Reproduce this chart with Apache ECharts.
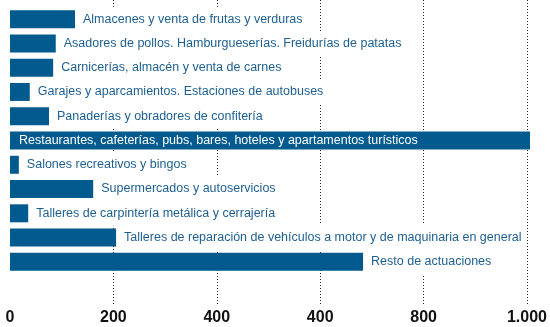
<!DOCTYPE html>
<html><head><meta charset="utf-8">
<script src="https://cdn.jsdelivr.net/npm/echarts@6/dist/echarts.min.js"></script>
<style>html,body{margin:0;padding:0;background:#fff}#c{width:550px;height:327px}</style>
</head><body><div id="c"></div>
<script>
const categories = [
  'Almacenes y venta de frutas y verduras',
  'Asadores de pollos. Hamburgueserías. Freidurías de patatas',
  'Carnicerías, almacén y venta de carnes',
  'Garajes y aparcamientos. Estaciones de autobuses',
  'Panaderías y obradores de confitería',
  'Restaurantes, cafeterías, pubs, bares, hoteles y apartamentos turísticos',
  'Salones recreativos y bingos',
  'Supermercados y autoservicios',
  'Talleres de carpintería metálica y cerrajería',
  'Talleres de reparación de vehículos a motor y de maquinaria en general',
  'Resto de actuaciones'
];
const values = [125, 88, 83, 38, 75, 1000, 17, 160, 35, 204, 679];
const tickLabels = ['0', '200', '400', '400', '800', '1.000'];

const BLUE = '#035a8e';
const FONT = '"Liberation Sans", Arial, sans-serif';

const data = values.map((v, i) => {
  const inside = v >= 1000;
  return {
    value: v,
    label: inside
      ? {position: 'insideLeft', distance: 9, color: '#ffffff', backgroundColor: 'transparent', padding: 0}
      : {position: 'right', distance: 5, color: '#1d5f8f', backgroundColor: '#ffffff', padding: [5, 3, 5, 3]}
  };
});

const chart = echarts.init(document.getElementById('c'));
chart.setOption({
  animation: false,
  grid: [
    {left: 10, right: 20, top: 7, height: 267},
    {left: 10, right: 20, top: 0, bottom: 21}
  ],
  xAxis: [
    {gridIndex: 0, type: 'value', min: 0, max: 1000, show: false},
    {gridIndex: 1, type: 'value', min: 0, max: 1000, interval: 200,
     axisLine: {show: false}, axisTick: {show: false},
     axisLabel: {margin: 4, color: '#111', fontWeight: 'bold', fontSize: 16, fontFamily: '"Liberation Sans", sans-serif',
       formatter: v => tickLabels[Math.round(v / 200)]},
     splitLine: {show: true, showMinLine: false, lineStyle: {color: '#222', type: [1, 2], width: 1}}}
  ],
  yAxis: [
    {gridIndex: 0, type: 'category', data: categories, inverse: true, show: false},
    {gridIndex: 1, type: 'value', show: false}
  ],
  series: [{
    type: 'bar', xAxisIndex: 0, yAxisIndex: 0,
    data: data, barWidth: 18,
    itemStyle: {color: BLUE},
    label: {show: true, formatter: p => categories[p.dataIndex], fontSize: 12.5, lineHeight: 15, fontFamily: FONT},
    z: 5
  }]
});
</script></body></html>
